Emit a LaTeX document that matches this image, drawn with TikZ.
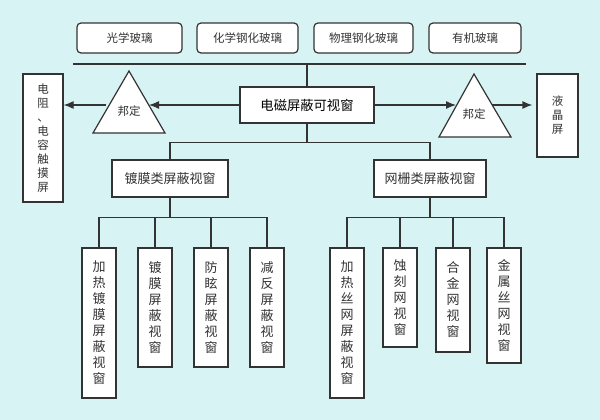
\documentclass[tikz,border=0pt]{standalone}
\usepackage{fontspec}
\setmainfont{Noto Sans CJK SC}
\usetikzlibrary{arrows.meta}
\definecolor{bgcyan}{RGB}{216,243,243}
\definecolor{linegray}{RGB}{51,51,51}

\begin{document}
\begin{tikzpicture}[x=1pt,y=-1pt,
    box/.style={draw=linegray,fill=white,inner sep=0pt,line width=1.2pt,text=black!80},
    glass/.style={box,rounded corners=4pt,minimum height=30pt,font=\fontsize{11.5}{14}\selectfont},
    vbox/.style={box,align=center,minimum width=34pt,font=\fontsize{13}{16}\selectfont},
    sidebox/.style={box,align=center,font=\fontsize{11.5}{14}\selectfont},
    link/.style={draw=linegray,line width=1.2pt},
    arr/.style={link,-{Latex[length=10pt,width=8pt]}}]
        % Background
        \fill [bgcyan] (0,0) rectangle (600,420);

        % Glass types
        \node [glass,minimum width=105pt] (g1) at (129.5,38) {光学玻璃};
        \node [glass,minimum width=101pt] (g2) at (247.5,38) {化学钢化玻璃};
        \node [glass,minimum width=99pt]  (g3) at (363.5,38) {物理钢化玻璃};
        \node [glass,minimum width=92pt]  (g4) at (475,38)   {有机玻璃};
        \coordinate (busl) at (73,64);
        \coordinate (busr) at (526,64);
        \draw [link] (busl) -- (busr);

        % Main window
        \node [box,minimum width=134pt,minimum height=36pt,text=black,
            font=\fontsize{13.3}{16}\selectfont] (main) at (307,105) {电磁屏蔽可视窗};
        \draw [link] (main.north) -- (main.north |- busl);

        % Bonding
        \draw [link,fill=white] (129,71) -- (165,133) -- (93,133) -- cycle;
        \node [text=black!80,font=\fontsize{11.5}{14}\selectfont] (bd1) at (129,111) {邦定};
        \coordinate (bd1e) at (149,105);
        \coordinate (bd1w) at (106,105);
        \draw [link,fill=white] (474,74) -- (511,137) -- (439,137) -- cycle;
        \node [text=black!80,font=\fontsize{11.5}{14}\selectfont] (bd2) at (474,114) {邦定};
        \coordinate (bd2w) at (456,105);
        \coordinate (bd2e) at (492,105);

        % Touch screen and LCD
        \node [sidebox,minimum width=40pt,minimum height=128pt] (touch) at (43,138)
            {电\\阻\\、\\电\\容\\触\\摸\\屏};
        \node [sidebox,minimum width=41pt,minimum height=83pt] (lcd) at (557.5,115.5)
            {液\\晶\\屏};
        \draw [arr] (main.west) -- (bd1e);
        \draw [arr] (bd1w) -- (bd1w -| touch.east);
        \draw [arr] (main.east) -- (bd2w);
        \draw [arr] (bd2e) -- ([xshift=-4pt]bd2e -| lcd.west);

        % Two families
        \node [box,minimum width=116pt,minimum height=37pt,
            font=\fontsize{13}{16}\selectfont] (m1) at (170,178.5) {镀膜类屏蔽视窗};
        \node [box,minimum width=112pt,minimum height=37pt,
            font=\fontsize{13}{16}\selectfont] (m2) at (430,178.5) {网栅类屏蔽视窗};
        \draw [link] (main.south) -- ++(0,19) coordinate (split);
        \draw [link] (m1.north) |- (split) -| (m2.north);

        % Coated windows
        \node [vbox,minimum height=150pt] (a1) at (99,323)    {加\\热\\镀\\膜\\屏\\蔽\\视\\窗};
        \node [vbox,minimum height=119pt] (a2) at (155,307.5) {镀\\膜\\屏\\蔽\\视\\窗};
        \node [vbox,minimum height=119pt] (a3) at (211,307.5) {防\\眩\\屏\\蔽\\视\\窗};
        \node [vbox,minimum height=119pt] (a4) at (267,307.5) {减\\反\\屏\\蔽\\视\\窗};
        \draw [link] (m1.south) -- ++(0,20) coordinate (s1);
        \foreach \n in {a1,a2,a3,a4}
            \draw [link] (s1) -| (\n.north);

        % Mesh windows
        \node [vbox,minimum height=150pt] (b1) at (347,323)   {加\\热\\丝\\网\\屏\\蔽\\视\\窗};
        \node [vbox,minimum height=99pt]  (b2) at (400,297.5) {蚀\\刻\\网\\视\\窗};
        \node [vbox,minimum height=104pt] (b3) at (453,300)   {合\\金\\网\\视\\窗};
        \node [vbox,minimum height=115pt] (b4) at (504,305.5) {金\\属\\丝\\网\\视\\窗};
        \draw [link] (m2.south) -- ++(0,20) coordinate (s2);
        \foreach \n in {b1,b2,b3,b4}
            \draw [link] (s2) -| (\n.north);
    \end{tikzpicture}
\end{document}
